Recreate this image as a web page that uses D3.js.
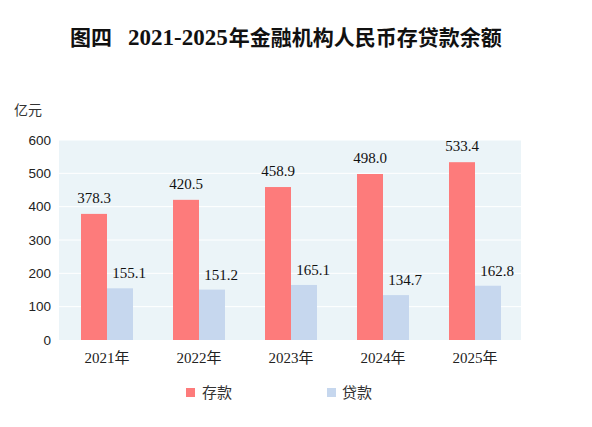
<!DOCTYPE html>
<html><head><meta charset="utf-8">
<script src="https://cdn.jsdelivr.net/npm/d3@7"></script>
<style>body{margin:0;background:#fff}svg{display:block}</style>
</head><body>
<svg id="c" width="592" height="427"></svg>
<script>
const categories = ["2021年","2022年","2023年","2024年","2025年"];
const deposits = [378.3, 420.5, 458.9, 498.0, 533.4];
const loans = [155.1, 151.2, 165.1, 134.7, 162.8];
const seriesNames = ["存款","贷款"];
const yTicks = [0,100,200,300,400,500,600];

const svg = d3.select("#c");
const m = {l:59, r:521, t:140, b:340};
const x = d3.scaleBand().domain(categories).range([m.l + 2, m.r]).padding(0);
const y = d3.scaleLinear().domain([0,600]).range([m.b, m.t]);
const bw = 26;
const colors = ["#fd7b7b","#c6d7ee"];
const serif = "'Liberation Serif','Noto Sans CJK SC',serif";

const title = svg.append("text").attr("x",70).attr("y",45)
  .attr("font-family",serif).attr("font-weight","bold").attr("font-size",21).attr("fill","#111");
title.append("tspan").text("图四");
title.append("tspan").attr("dx",16).attr("font-size",23).text("2021-2025");
title.append("tspan").attr("dx",1).text("年金融机构人民币存贷款余额");

svg.append("rect").attr("x",m.l).attr("y",m.t).attr("width",m.r-m.l).attr("height",m.b-m.t).attr("fill","#ebf4f8");
svg.append("g").selectAll("line").data(yTicks.slice(1)).join("line")
  .attr("x1",m.l).attr("x2",m.r).attr("y1",d=>y(d)).attr("y2",d=>y(d))
  .attr("stroke","#ffffff").attr("stroke-width",1);

const yAxis = svg.append("g").attr("transform",`translate(${m.l},0)`)
  .call(d3.axisLeft(y).tickValues(yTicks).tickSize(0).tickPadding(8));
yAxis.select(".domain").remove();
yAxis.selectAll("text").attr("font-family","'Liberation Sans',Arial,sans-serif").attr("font-size",13.5).attr("fill","#222");

svg.append("text").attr("x",14).attr("y",115).attr("font-family","'Noto Sans CJK SC',sans-serif")
  .attr("font-size",14).attr("fill","#333").text("亿元");

const g = svg.append("g");
categories.forEach((c,i)=>{
  const cx = x(c) + x.bandwidth()/2;
  g.append("rect").attr("x",cx-bw).attr("width",bw).attr("y",y(deposits[i])).attr("height",y(0)-y(deposits[i])).attr("fill",colors[0]);
  g.append("rect").attr("x",cx).attr("width",bw).attr("y",y(loans[i])).attr("height",y(0)-y(loans[i])).attr("fill",colors[1]);
  g.append("text").attr("x",cx-bw/2).attr("y",y(deposits[i])-11).attr("text-anchor","middle")
    .attr("font-family",serif).attr("font-size",15).attr("fill","#111").text(deposits[i].toFixed(1));
  g.append("text").attr("x",cx+bw/2+9).attr("y",y(loans[i])-10).attr("text-anchor","middle")
    .attr("font-family",serif).attr("font-size",15).attr("fill","#111").text(loans[i].toFixed(1));
});

const xAxis = svg.append("g").attr("transform",`translate(0,${m.b})`)
  .call(d3.axisBottom(x).tickSize(0).tickPadding(12));
xAxis.select(".domain").remove();
xAxis.selectAll("text").attr("font-family",serif).attr("font-size",15).attr("fill","#222");

const lg = svg.append("g");
[[186,202],[327,342]].forEach((p,i)=>{
  lg.append("rect").attr("x",p[0]).attr("y",388).attr("width",9).attr("height",9).attr("fill",colors[i]);
  lg.append("text").attr("x",p[1]).attr("y",398).attr("font-family","'Noto Sans CJK SC',sans-serif")
    .attr("font-size",15).attr("fill","#333").text(seriesNames[i]);
});
</script>
</body></html>
